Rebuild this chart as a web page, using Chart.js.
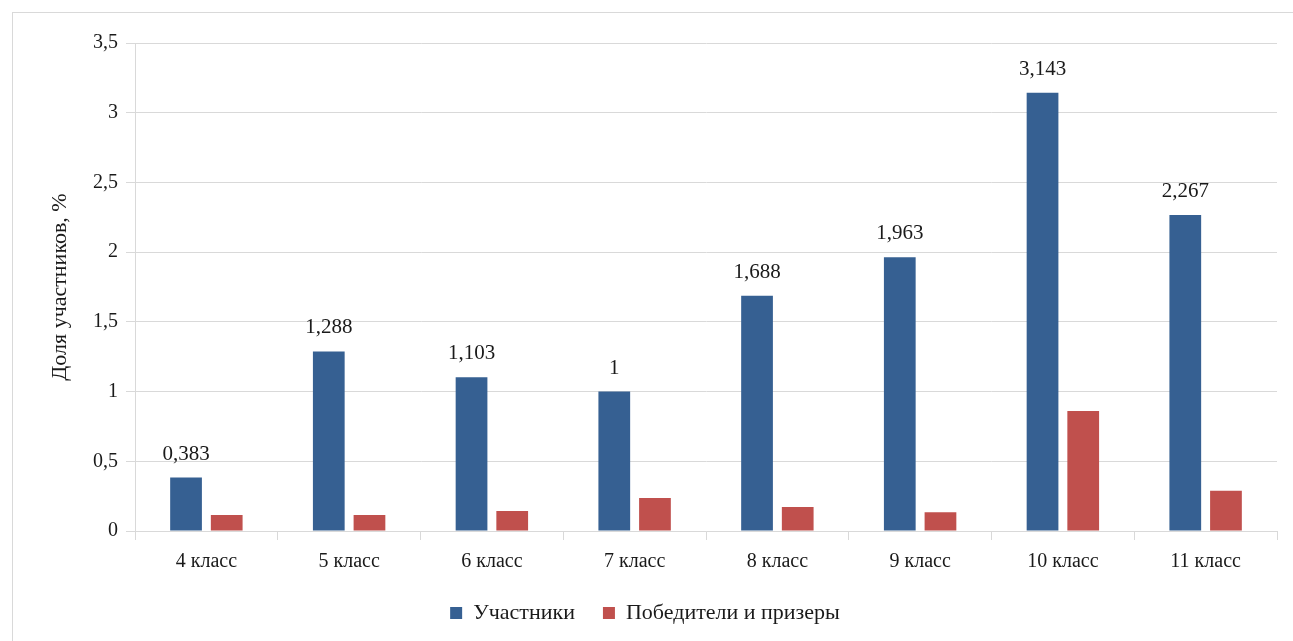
<!DOCTYPE html>
<html>
<head>
<meta charset="utf-8">
<script src="https://cdn.jsdelivr.net/npm/chart.js@4"></script>
<style>
  html, body { margin: 0; padding: 0; background: #fff; }
  #frame {
    position: absolute; left: 12px; top: 12px;
    width: 1290px; height: 640px;
    border: 1px solid #d9d9d9; box-sizing: border-box;
  }
  #wrap { position: absolute; left: 13px; top: 13px; width: 1275px; height: 625px; }
</style>
</head>
<body>
<div id="frame"></div>
<div id="wrap"><canvas id="shareChart"></canvas></div>
<script>
// Chart data
const categories = ['4 класс', '5 класс', '6 класс', '7 класс', '8 класс', '9 класс', '10 класс', '11 класс'];
const participants = [0.383, 1.288, 1.103, 1, 1.688, 1.963, 3.143, 2.267];
const winners = [0.115, 0.115, 0.143, 0.237, 0.172, 0.134, 0.861, 0.289];

const serif = '"Liberation Serif", "Times New Roman", serif';

function fmt(v) {
  return String(v).replace('.', ',');
}

// value labels above the blue bars
const valueLabels = {
  id: 'valueLabels',
  afterDatasetsDraw(chart) {
    const ctx = chart.ctx;
    const meta = chart.getDatasetMeta(0);
    ctx.save();
    ctx.font = '21px ' + serif;
    ctx.fillStyle = '#1a1a1a';
    ctx.textAlign = 'center';
    ctx.textBaseline = 'bottom';
    meta.data.forEach(function(bar, i) {
      ctx.fillText(fmt(participants[i]), bar.x, bar.y - 13);
    });
    ctx.restore();
  }
};

const ctx = document.getElementById('shareChart').getContext('2d');
new Chart(ctx, {
  type: 'bar',
  data: {
    labels: categories,
    datasets: [
      {
        label: 'Участники',
        data: participants,
        backgroundColor: '#366092',
        borderWidth: 0
      },
      {
        label: 'Победители и призеры',
        data: winners,
        backgroundColor: '#c0504d',
        borderWidth: 0
      }
    ]
  },
  options: {
    responsive: true,
    maintainAspectRatio: false,
    animation: false,
    datasets: {
      bar: { categoryPercentage: 0.57, barPercentage: 0.78 }
    },
    layout: { padding: { left: 0, right: 11, top: 30, bottom: 4 } },
    scales: {
      x: {
        afterFit: function(scale) { scale.height = scale.height - 10; },
        grid: {
          offset: true,
          drawOnChartArea: false,
          color: '#d9d9d9',
          tickLength: 9
        },
        border: { color: '#d9d9d9' },
        ticks: {
          color: '#1a1a1a',
          font: { family: serif, size: 20 },
          padding: 10
        }
      },
      y: {
        min: 0,
        max: 3.5,
        afterFit: function(scale) { scale.width = 122; },
        ticks: {
          stepSize: 0.5,
          color: '#1a1a1a',
          font: { family: serif, size: 20 },
          padding: 8,
          callback: function(v) { return fmt(v); }
        },
        grid: { color: '#d9d9d9', tickLength: 9 },
        border: { color: '#d9d9d9' },
        title: {
          display: true,
          text: 'Доля участников, %',
          color: '#1a1a1a',
          font: { family: serif, size: 22 },
          padding: { top: 34, bottom: 0 }
        }
      }
    },
    plugins: {
      legend: {
        position: 'bottom',
        labels: {
          color: '#1a1a1a',
          font: { family: serif, size: 22 },
          boxWidth: 12,
          boxHeight: 12,
          padding: 28
        }
      },
      tooltip: { enabled: false }
    }
  },
  plugins: [valueLabels]
});
</script>
</body>
</html>
